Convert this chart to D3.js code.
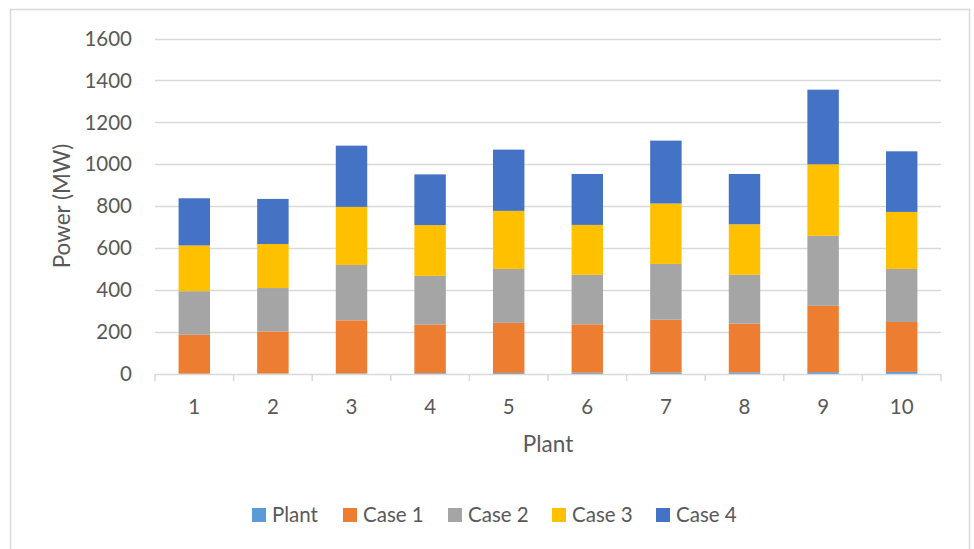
<!DOCTYPE html>
<html>
<head>
<meta charset="utf-8">
<script src="https://cdn.jsdelivr.net/npm/d3@7"></script>
<style>
  html, body { margin: 0; padding: 0; background: #fff; }
  svg { display: block; font-family: Lato, "Open Sans", sans-serif; }
</style>
</head>
<body>
<svg id="chart" width="974" height="549"></svg>
<script>
// Plant numbers on the category axis
const plants = ["1", "2", "3", "4", "5", "6", "7", "8", "9", "10"];
// Stacked series (MW)
const plantSeries = [1, 2, 3, 4, 5, 6, 7, 8, 9, 10];
const case1 = [186, 201, 253, 231, 239, 231, 252, 232, 316, 238];
const case2 = [208, 207, 264, 233, 257, 236, 266, 233, 334, 253];
const case3 = [218, 210, 277, 242, 277, 238, 288, 241, 341, 272];
const case4 = [225, 215, 292, 242, 292, 243, 300, 240, 356, 289];
const seriesNames = ["Plant", "Case 1", "Case 2", "Case 3", "Case 4"];
const seriesColors = ["#5B9BD5", "#ED7D31", "#A5A5A5", "#FFC000", "#4472C4"];
const yTicks = [0, 200, 400, 600, 800, 1000, 1200, 1400, 1600];

const svg = d3.select("#chart");
const textColor = "#595959";
const gridColor = "#D9D9D9";
const labelSize = 20.5;

// outer chart frame
svg.append("rect")
  .attr("x", 10.5).attr("y", 9.5)
  .attr("width", 959).attr("height", 560)
  .attr("fill", "#fff")
  .attr("stroke", "#D9D9D9").attr("stroke-width", 1.5);

const plot = { left: 155, right: 941, top: 38.5, bottom: 374 };

const x = d3.scaleBand()
  .domain(plants)
  .range([plot.left, plot.right])
  .paddingInner(0.6)
  .paddingOuter(0.3);

const y = d3.scaleLinear()
  .domain([0, 1600])
  .range([plot.bottom, plot.top]);

// horizontal gridlines
svg.append("g")
  .selectAll("line")
  .data(yTicks.filter(d => d > 0))
  .join("line")
  .attr("x1", plot.left).attr("x2", plot.right)
  .attr("y1", d => Math.round(y(d)) + 0.5)
  .attr("y2", d => Math.round(y(d)) + 0.5)
  .attr("stroke", gridColor).attr("stroke-width", 1.5);

// y tick labels
svg.append("g")
  .selectAll("text")
  .data(yTicks)
  .join("text")
  .attr("x", 132)
  .attr("y", d => y(d))
  .attr("dy", "0.35em")
  .attr("text-anchor", "end")
  .attr("fill", textColor)
  .attr("font-size", labelSize)
  .text(d => d);

// stacked bars
const rows = plants.map((p, i) => ({
  plant: p,
  "Plant": plantSeries[i],
  "Case 1": case1[i],
  "Case 2": case2[i],
  "Case 3": case3[i],
  "Case 4": case4[i]
}));
const stack = d3.stack().keys(seriesNames)(rows);

svg.append("g")
  .selectAll("g")
  .data(stack)
  .join("g")
  .attr("fill", (d, i) => seriesColors[i])
  .selectAll("rect")
  .data(d => d)
  .join("rect")
  .attr("x", d => x(d.data.plant))
  .attr("width", x.bandwidth())
  .attr("y", d => y(d[1]))
  .attr("height", d => y(d[0]) - y(d[1]));

// category axis line and tick marks between categories
const axisG = svg.append("g");
axisG.append("line")
  .attr("x1", plot.left).attr("x2", plot.right)
  .attr("y1", plot.bottom + 0.5).attr("y2", plot.bottom + 0.5)
  .attr("stroke", gridColor).attr("stroke-width", 1.5);
const tickXs = plants.map((p, i) => plot.left + i * (plot.right - plot.left) / plants.length).concat([plot.right]);
axisG.selectAll("line.tick")
  .data(tickXs)
  .join("line")
  .attr("class", "tick")
  .attr("x1", d => d).attr("x2", d => d)
  .attr("y1", plot.bottom).attr("y2", plot.bottom + 7)
  .attr("stroke", gridColor).attr("stroke-width", 1.5);

// category labels
svg.append("g")
  .selectAll("text")
  .data(plants)
  .join("text")
  .attr("x", d => x(d) + x.bandwidth() / 2)
  .attr("y", 407)
  .attr("dy", "0.35em")
  .attr("text-anchor", "middle")
  .attr("fill", textColor)
  .attr("font-size", labelSize)
  .text(d => d);

// axis titles
svg.append("text")
  .attr("x", (plot.left + plot.right) / 2)
  .attr("y", 444)
  .attr("dy", "0.35em")
  .attr("text-anchor", "middle")
  .attr("fill", textColor)
  .attr("font-size", 22.5)
  .text("Plant");

svg.append("text")
  .attr("transform", "translate(62,206) rotate(-90)")
  .attr("dy", "0.35em")
  .attr("text-anchor", "middle")
  .attr("fill", textColor)
  .attr("font-size", 22.5)
  .text("Power (MW)");

// legend
const legendX = [252, 343, 448, 552, 656];
const legend = svg.append("g")
  .selectAll("g")
  .data(seriesNames)
  .join("g")
  .attr("transform", (d, i) => `translate(${legendX[i]},515)`);
legend.append("rect")
  .attr("x", 0).attr("y", -7)
  .attr("width", 14).attr("height", 14)
  .attr("fill", (d, i) => seriesColors[i]);
legend.append("text")
  .attr("x", 20)
  .attr("dy", "0.35em")
  .attr("fill", textColor)
  .attr("font-size", labelSize)
  .text(d => d);
</script>
</body>
</html>
